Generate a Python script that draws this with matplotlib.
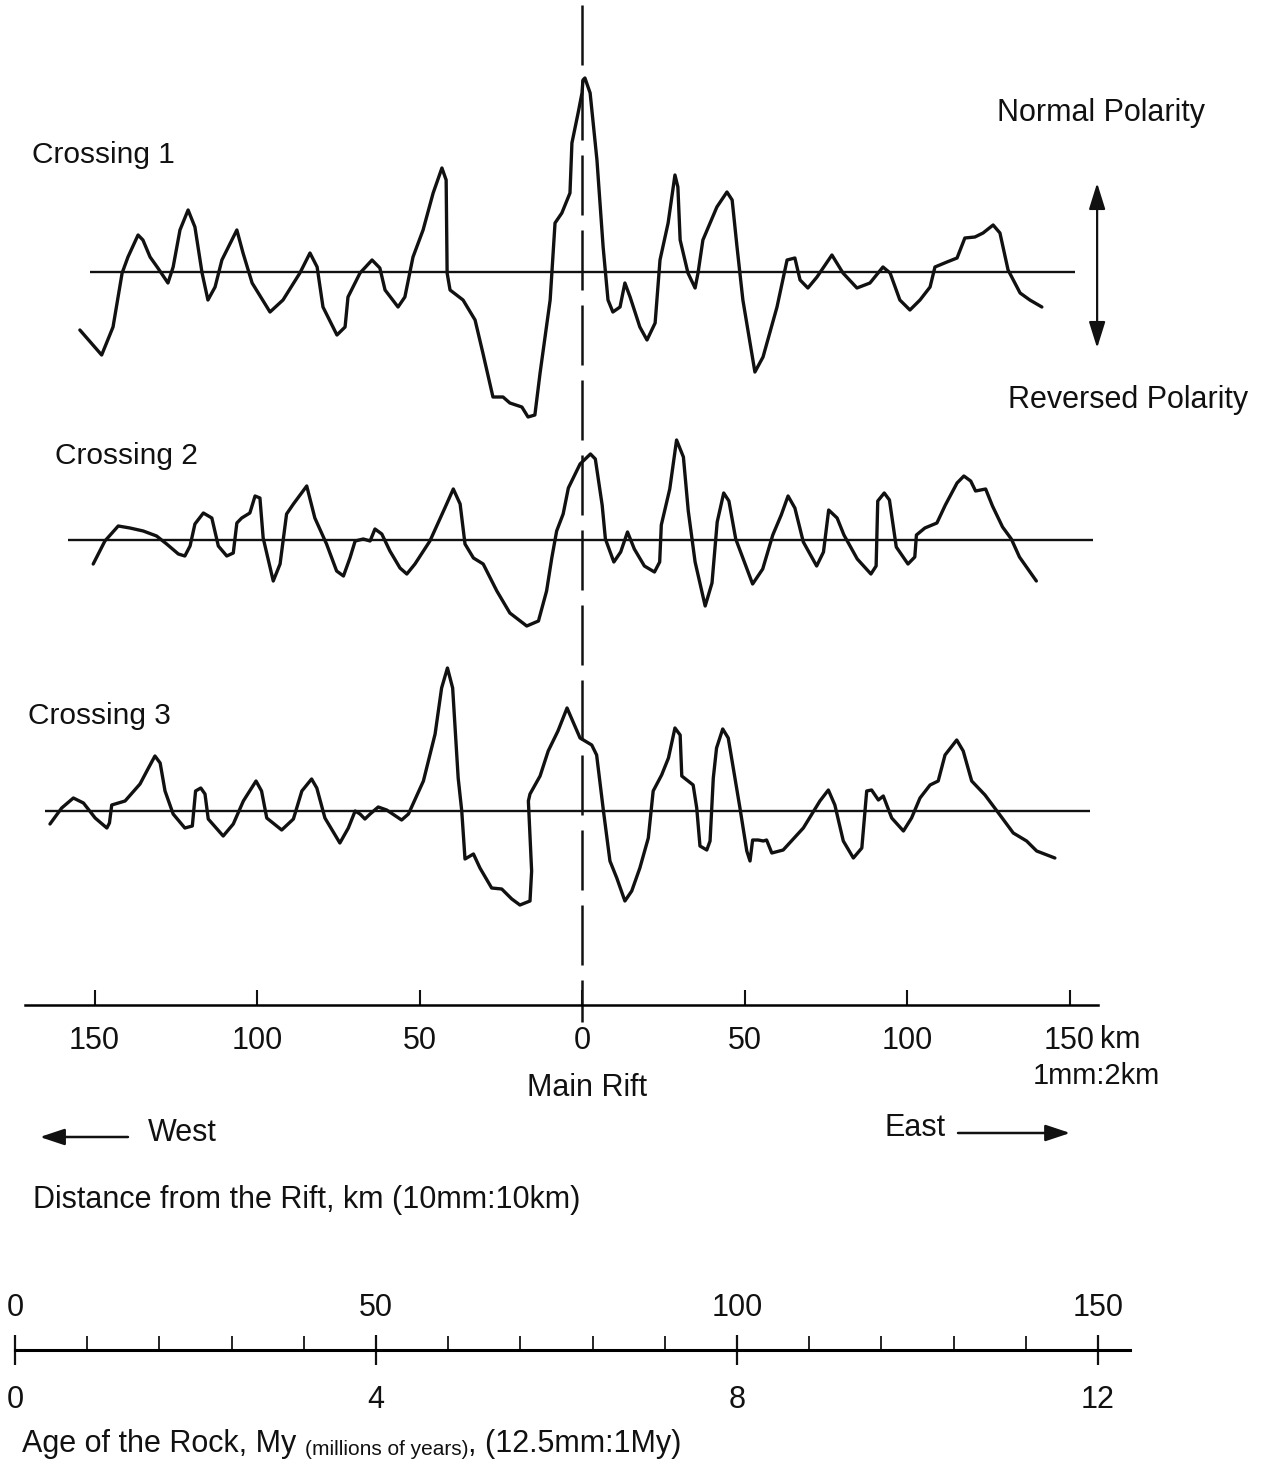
import numpy as np
import matplotlib.pyplot as plt

W, H = 1270, 1460

# magnetic anomaly profiles, distance from the rift in km (west negative),
# anomaly above the line positive (drawing units)
c1_km = [-154.5, -147.8, -144.3, -141.5, -139.7, -136.6, -135.1, -132.9, -130.5, -127.4,
         -125.8, -123.7, -121.2, -119.1, -116.9, -115.1, -112.9, -110.8, -106.2, -104.3,
         -101.5, -96.0, -92.0, -86.8, -83.7, -81.5, -79.7, -75.4, -72.9, -72.0,
         -68.3, -64.6, -62.2, -60.6, -56.6, -54.5, -52.0, -48.9, -45.8, -43.1,
         -41.8, -41.5, -40.6, -36.6, -32.9, -30.5, -27.4, -24.3, -22.2, -18.5,
         -16.6, -14.5, -12.9, -9.8, -8.3, -6.2, -3.7, -3.1, -1.2, 0.0,
         0.3, 0.9, 2.5, 4.6, 6.5, 8.0, 9.5, 11.7, 13.2, 14.8,
         17.8, 20.0, 22.5, 24.0, 26.5, 28.6, 29.5, 30.2, 32.6, 34.8,
         35.7, 37.2, 41.5, 44.6, 46.2, 47.7, 49.5, 53.2, 55.7, 60.0,
         63.1, 65.5, 67.1, 69.5, 72.3, 76.9, 80.3, 84.6, 88.6, 92.6,
         94.8, 97.8, 100.9, 104.0, 107.1, 108.6, 112.3, 115.4, 117.8, 120.9,
         123.4, 126.5, 128.6, 131.1, 134.8, 137.8, 141.5]
c1_amp = [-58, -83, -55, -1, 15, 37, 32, 15, 4, -11,
          5, 42, 62, 45, -1, -28, -15, 12, 42, 19,
          -11, -40, -28, -1, 19, 5, -35, -63, -55, -25,
          -1, 12, 4, -18, -35, -25, 15, 42, 79, 104,
          92, -1, -18, -28, -48, -81, -125, -125, -131, -135,
          -145, -143, -101, -28, 49, 59, 79, 129, 159, 179,
          192, 194, 179, 112, 25, -28, -40, -35, -11, -25,
          -55, -68, -51, 12, 49, 97, 85, 32, -1, -16,
          -1, 32, 65, 80, 72, 25, -28, -100, -85, -35,
          12, 14, -8, -16, -5, 17, -1, -16, -11, 5,
          -1, -28, -38, -28, -15, 5, 10, 14, 34, 35,
          39, 47, 39, 2, -21, -28, -35]

c2_km = [-150.4, -146.8, -142.7, -139.1, -135.0, -130.9, -127.8, -124.2, -122.2, -120.6,
         -119.1, -116.5, -113.9, -111.9, -109.3, -107.3, -106.2, -104.7, -102.2, -100.6,
         -99.1, -98.1, -95.0, -92.9, -90.9, -88.8, -84.7, -82.2, -78.6, -75.5,
         -73.4, -71.4, -69.8, -67.3, -65.2, -63.7, -61.6, -59.1, -56.0, -53.9,
         -51.4, -46.8, -42.2, -39.6, -37.5, -36.0, -33.4, -30.4, -26.2, -22.2,
         -17.0, -13.4, -10.9, -9.3, -7.8, -5.8, -4.2, -0.6, 2.6, 4.1,
         6.2, 7.2, 9.8, 11.9, 14.0, 16.1, 19.2, 22.3, 23.9, 24.4,
         27.0, 29.1, 31.2, 32.7, 34.8, 37.9, 40.0, 41.6, 43.6, 45.2,
         47.3, 52.5, 55.6, 58.7, 61.3, 63.4, 65.5, 68.1, 72.2, 74.3,
         75.9, 78.5, 80.6, 84.7, 88.9, 90.5, 91.0, 93.0, 94.6, 96.7,
         100.3, 102.4, 102.9, 105.5, 109.2, 111.8, 115.4, 117.5, 119.6, 121.1,
         124.2, 126.3, 129.4, 132.1, 134.6, 139.8]
c2_amp = [-24, -1, 14, 12, 9, 4, -4, -14, -16, -6,
          16, 27, 22, -6, -16, -13, 17, 22, 27, 44,
          42, 2, -41, -24, 26, 36, 54, 22, -4, -31,
          -36, -18, -1, 1, -1, 11, 6, -11, -28, -34,
          -24, -1, 32, 51, 36, -4, -18, -24, -51, -73,
          -86, -81, -51, -18, 9, 26, 52, 76, 86, 81,
          35, 1, -22, -12, 8, -9, -26, -32, -22, 15,
          51, 100, 83, 29, -22, -66, -43, 18, 47, 39,
          1, -44, -29, 5, 25, 44, 32, -2, -26, -12,
          30, 22, 5, -19, -34, -26, 39, 47, 40, -7,
          -24, -17, 5, 12, 17, 35, 57, 64, 59, 49,
          51, 34, 13, 1, -17, -41]

c3_km = [-163.7, -160.1, -156.5, -153.4, -149.8, -146.2, -145.4, -144.7, -140.6, -136.0,
         -133.4, -131.4, -129.8, -128.3, -125.8, -122.2, -119.9, -118.9, -117.3, -116.0,
         -115.0, -110.4, -107.3, -104.2, -100.3, -98.6, -97.0, -92.4, -88.8, -86.2,
         -83.2, -81.6, -79.1, -74.5, -71.9, -69.8, -68.3, -66.8, -65.2, -62.7,
         -60.1, -55.5, -53.4, -48.8, -45.2, -43.2, -41.4, -39.8, -38.1, -37.0,
         -36.0, -33.4, -31.4, -27.8, -24.7, -21.6, -19.1, -16.0, -15.5, -16.5,
         -16.0, -12.9, -10.4, -7.4, -4.6, -0.6, 3.0, 4.5, 6.6, 8.6,
         10.7, 13.2, 15.3, 17.8, 20.4, 21.9, 24.5, 26.6, 28.6, 30.2,
         30.7, 34.2, 35.3, 36.3, 38.4, 39.4, 40.4, 41.4, 43.3, 45.0,
         48.6, 50.7, 51.7, 52.5, 54.2, 55.8, 56.8, 58.4, 61.9, 68.1,
         73.2, 75.8, 77.8, 80.4, 83.5, 86.1, 87.6, 89.1, 91.2, 92.7,
         95.3, 98.9, 101.4, 104.0, 107.1, 109.6, 111.7, 115.3, 117.3, 119.9,
         124.0, 128.6, 132.7, 136.8, 139.9, 145.5]
c3_amp = [-13, 3, 13, 8, -7, -17, -12, 6, 10, 27,
          43, 55, 48, 20, -3, -17, -15, 20, 23, 17,
          -8, -25, -13, 10, 30, 20, -7, -19, -8, 20,
          32, 23, -7, -32, -17, 0, -3, -8, -3, 4,
          1, -9, -3, 30, 77, 123, 143, 123, 33, 0,
          -48, -43, -57, -77, -78, -88, -94, -90, -60, 10,
          17, 35, 60, 80, 103, 73, 66, 56, 0, -50,
          -67, -90, -80, -57, -27, 20, 36, 53, 83, 76,
          35, 26, 3, -35, -39, -30, 33, 63, 82, 73,
          3, -40, -50, -29, -29, -30, -29, -42, -39, -17,
          10, 21, 6, -30, -47, -37, 20, 21, 11, 15,
          -7, -20, -7, 13, 26, 30, 56, 71, 60, 30,
          16, -4, -22, -30, -40, -47]

dist_ticks = [-150, -100, -50, 0, 50, 100, 150]
dist_labels = ['150', '100', '50', '0', '50', '100', '150']
age_my = [0, 4, 8, 12]
age_km = [0, 50, 100, 150]

INK = '#111111'
SANS = ['Liberation Sans', 'DejaVu Sans']

fig = plt.figure(figsize=(W / 100, H / 100), dpi=100)
fig.patch.set_facecolor('white')

# main drawing area: x in km from the rift, y in drawing units (downwards)
ax = fig.add_axes([0, 0, 1, 1])
ax.set_xlim(-582 / 3.25, 688 / 3.25)
ax.set_ylim(H, 0)
ax.axis('off')

profiles = [(c1_km, c1_amp, 272, (-151.4, 151.7)),
            (c2_km, c2_amp, 540, (-158.2, 157.2)),
            (c3_km, c3_amp, 811, (-165.2, 156.3))]
for km, amp, base, (x0, x1) in profiles:
    ax.hlines(base, x0, x1, color=INK, lw=1.7)
    ax.plot(km, base - np.array(amp), color=INK, lw=2.4,
            solid_joinstyle='round', solid_capstyle='round')

# main rift
ax.vlines(0, 5, 1022, color=INK, lw=1.8, linestyles=(0, (24, 6)))

ax.text(-169.2, 155, 'Crossing 1', fontsize=21.5, family=SANS, va='center', color=INK)
ax.text(-162.2, 456, 'Crossing 2', fontsize=21.5, family=SANS, va='center', color=INK)
ax.text(-170.5, 716, 'Crossing 3', fontsize=21.5, family=SANS, va='center', color=INK)
ax.text(127.7, 113, 'Normal Polarity', fontsize=22, family=SANS, va='center', color=INK)
ax.text(131.1, 400, 'Reversed Polarity', fontsize=22, family=SANS, va='center', color=INK)
ax.annotate('', xy=(158.5, 183), xytext=(158.5, 348),
            arrowprops=dict(arrowstyle='<|-|>,head_length=1.6,head_width=0.5',
                            color=INK, lw=1.6, shrinkA=0, shrinkB=0))

# distance scale
ax_km = fig.add_axes([25 / W, 1 - 1005 / H, 1073 / W, 0.0001])
ax_km.set_xlim(-171.4, 158.75)
ax_km.set_ylim(0, 1)
ax_km.patch.set_alpha(0)
for s in ['top', 'left', 'right']:
    ax_km.spines[s].set_visible(False)
ax_km.spines['bottom'].set_linewidth(1.8)
ax_km.set_yticks([])
ax_km.set_xticks(dist_ticks)
ax_km.set_xticklabels(dist_labels, family=SANS)
ax_km.tick_params(axis='x', direction='in', length=11, width=1.5, pad=15,
                  labelsize=22, colors=INK)

ax.text(159.4, 1040, 'km', fontsize=22, family=SANS, va='center', color=INK)
ax.text(158.2, 1076, '1mm:2km', fontsize=21, family=SANS, ha='center', va='center', color=INK)
ax.text(1.5, 1088, 'Main Rift', fontsize=22, family=SANS, ha='center', va='center', color=INK)
ax.text(-133.5, 1133, 'West', fontsize=22, family=SANS, va='center', color=INK)
ax.annotate('', xy=(-166.8, 1137), xytext=(-139.7, 1137),
            arrowprops=dict(arrowstyle='-|>,head_length=1.5,head_width=0.5',
                            color=INK, lw=1.8, shrinkA=0, shrinkB=0))
ax.text(93.2, 1128, 'East', fontsize=22, family=SANS, va='center', color=INK)
ax.annotate('', xy=(150.2, 1133), xytext=(115.7, 1133),
            arrowprops=dict(arrowstyle='-|>,head_length=1.5,head_width=0.5',
                            color=INK, lw=1.8, shrinkA=0, shrinkB=0))
ax.text(-168.9, 1200, 'Distance from the Rift, km (10mm:10km)', fontsize=22,
        family=SANS, va='center', color=INK)

# age scale (My below, km above)
ax_age = fig.add_axes([15 / W, 1 - 1350 / H, 1115 / W, 0.0001])
ax_age.set_xlim(0, 1115 / 90.25)
ax_age.set_ylim(0, 1)
ax_age.patch.set_alpha(0)
for s in ['top', 'left', 'right']:
    ax_age.spines[s].set_visible(False)
ax_age.spines['bottom'].set_linewidth(2.2)
ax_age.set_yticks([])
ax_age.set_xticks(age_my)
ax_age.set_xticklabels([str(v) for v in age_my], family=SANS)
ax_age.set_xticks(np.arange(0.8, 12, 0.8), minor=True)
ax_age.tick_params(axis='x', which='major', direction='inout', length=22, width=1.6,
                   pad=14, labelsize=22, colors=INK)
ax_age.tick_params(axis='x', which='minor', direction='in', length=10, width=1.2)

sec = ax_age.secondary_xaxis('top', functions=(lambda m: m * 12.5, lambda k: k / 12.5))
sec.set_xticks(age_km)
sec.set_xticklabels([str(v) for v in age_km], family=SANS)
sec.spines['top'].set_visible(False)
sec.tick_params(axis='x', length=0, pad=19, labelsize=22, colors=INK)

t1 = ax.text(-172.3, 1459, 'Age of the Rock, My ', fontsize=22, family=SANS,
             va='bottom', color=INK)
t2 = ax.annotate('(millions of years)', xy=(1, 0), xycoords=t1, fontsize=15,
                 family=SANS, va='bottom', color=INK)
ax.annotate(', (12.5mm:1My)', xy=(1, 0), xycoords=t2, fontsize=22,
            family=SANS, va='bottom', color=INK)

fig.savefig('out.png', dpi=100, facecolor='white')
